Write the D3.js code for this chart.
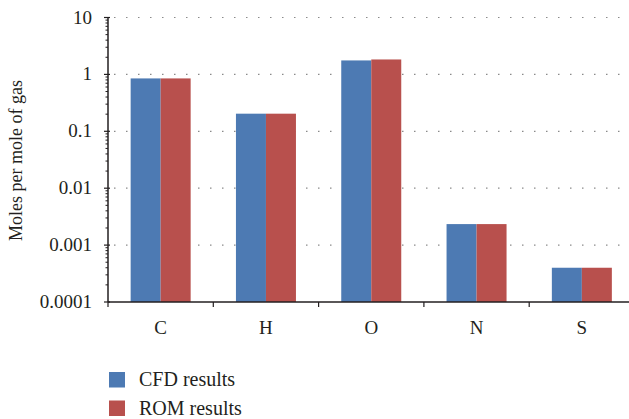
<!DOCTYPE html>
<html>
<head>
<meta charset="utf-8">
<script src="https://cdn.jsdelivr.net/npm/d3@7"></script>
<style>
  body { margin: 0; background: #fff; }
  text { font-family: "Liberation Serif", "Times New Roman", serif; fill: #231f20; }
</style>
</head>
<body>
<svg id="chart" width="629" height="419"></svg>
<script>
const elements = ['C', 'H', 'O', 'N', 'S'];
const cfdValues = [0.85, 0.204, 1.76, 0.00234, 0.0004];
const romValues = [0.85, 0.204, 1.83, 0.00234, 0.0004];
const yTicks = [0.0001, 0.001, 0.01, 0.1, 1, 10];
const yTickLabels = ['0.0001', '0.001', '0.01', '0.1', '1', '10'];
const seriesNames = ['CFD results', 'ROM results'];
const seriesColors = ['#4d7ab3', '#b8504d'];

const svg = d3.select('#chart');
const plotLeft = 108, plotTop = 17.5, plotBottom = 302;
const bandW = 105.3;

const x = d3.scaleBand()
    .domain(elements)
    .range([plotLeft, plotLeft + bandW * elements.length]);

const y = d3.scaleLog()
    .domain([0.0001, 10])
    .range([plotBottom, plotTop]);

// dotted gridlines
svg.append('g')
    .selectAll('line')
    .data(yTicks.slice(1))
    .join('line')
    .attr('x1', plotLeft + 6)
    .attr('x2', 629)
    .attr('y1', d => y(d))
    .attr('y2', d => y(d))
    .attr('stroke', '#8a8a8a')
    .attr('stroke-width', 1.2)
    .attr('stroke-dasharray', '1.5,10.5');

// bars
const groupW = 60;
const sub = d3.scaleBand().domain([0, 1]).range([0, groupW]);
const series = [cfdValues, romValues];
series.forEach((vals, si) => {
    svg.append('g')
        .selectAll('rect')
        .data(vals)
        .join('rect')
        .attr('x', (d, i) => x(elements[i]) + (x.bandwidth() - groupW) / 2 + sub(si))
        .attr('y', d => y(d))
        .attr('width', sub.bandwidth())
        .attr('height', d => plotBottom - y(d))
        .attr('fill', seriesColors[si]);
});

// y axis with log minor ticks
const minor = [];
for (let e = -4; e < 1; e++) {
    for (let k = 2; k <= 9; k++) minor.push(k * Math.pow(10, e));
}
const yAxis = svg.append('g');
yAxis.selectAll('line.minor')
    .data(minor)
    .join('line')
    .attr('class', 'minor')
    .attr('x1', plotLeft - 2.5).attr('x2', plotLeft)
    .attr('y1', d => y(d)).attr('y2', d => y(d))
    .attr('stroke', '#231f20').attr('stroke-width', 1);
yAxis.selectAll('line.major')
    .data(yTicks)
    .join('line')
    .attr('class', 'major')
    .attr('x1', plotLeft - 4).attr('x2', plotLeft + 2)
    .attr('y1', d => y(d)).attr('y2', d => y(d))
    .attr('stroke', '#231f20').attr('stroke-width', 1.2);
yAxis.append('line')
    .attr('x1', plotLeft).attr('x2', plotLeft)
    .attr('y1', plotTop).attr('y2', plotBottom)
    .attr('stroke', '#231f20').attr('stroke-width', 1.5);
yAxis.selectAll('text')
    .data(yTicks)
    .join('text')
    .attr('x', 92)
    .attr('y', d => y(d) + 6)
    .attr('text-anchor', 'end')
    .attr('font-size', 19)
    .text((d, i) => yTickLabels[i]);

// x axis
const xAxis = svg.append('g');
xAxis.append('line')
    .attr('x1', plotLeft).attr('x2', 629)
    .attr('y1', plotBottom).attr('y2', plotBottom)
    .attr('stroke', '#231f20').attr('stroke-width', 1.5);
xAxis.selectAll('line.tick')
    .data(elements)
    .join('line')
    .attr('class', 'tick')
    .attr('x1', d => x(d)).attr('x2', d => x(d))
    .attr('y1', plotBottom).attr('y2', plotBottom + 5)
    .attr('stroke', '#231f20').attr('stroke-width', 1.2);
xAxis.selectAll('text')
    .data(elements)
    .join('text')
    .attr('x', d => x(d) + x.bandwidth() / 2)
    .attr('y', 334)
    .attr('text-anchor', 'middle')
    .attr('font-size', 19)
    .text(d => d);

// y label
svg.append('text')
    .attr('transform', 'translate(22,' + (69 + 252) / 2 + ') rotate(-90)')
    .attr('text-anchor', 'middle')
    .attr('font-size', 18)
    .text('Moles per mole of gas');

// legend
const legend = svg.append('g');
seriesNames.forEach((name, i) => {
    const ly = 372 + i * 28.5;
    legend.append('rect')
        .attr('x', 109).attr('y', ly)
        .attr('width', 16).attr('height', 15.5)
        .attr('fill', seriesColors[i]);
    legend.append('text')
        .attr('x', 139).attr('y', ly + 14)
        .attr('font-size', 20)
        .text(name);
});
</script>
</body>
</html>
